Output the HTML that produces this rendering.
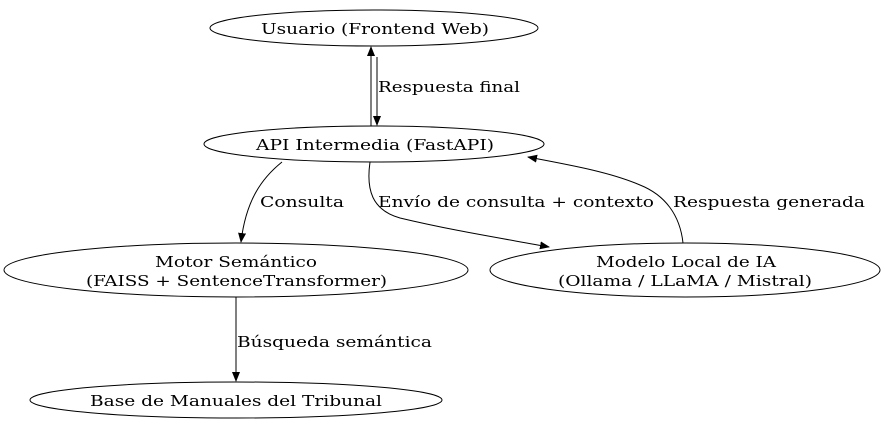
<!DOCTYPE html>
<html><head><meta charset="utf-8"><style>
html,body{margin:0;padding:0;background:#fff;}
svg{display:block;}
text{font-family:"DejaVu Serif","Liberation Serif",serif;font-size:15px;fill:#000;}
</style></head><body>
<svg width="885" height="430" viewBox="0 0 885 430" xmlns="http://www.w3.org/2000/svg">
<defs>
<marker id="a" markerWidth="10" markerHeight="8" refX="9" refY="4" orient="auto" markerUnits="userSpaceOnUse">
<path d="M0,0 L10,4 L0,8 Z" fill="#000"/>
</marker>
</defs>
<g fill="none" stroke="#000" stroke-width="1">
<ellipse cx="374" cy="28" rx="164" ry="18"/>
<ellipse cx="374" cy="144" rx="170" ry="18"/>
<ellipse cx="236" cy="270" rx="232" ry="27"/>
<ellipse cx="685" cy="270" rx="195" ry="27"/>
<ellipse cx="236" cy="400" rx="206" ry="18"/>
<path d="M371,126 L371,47" marker-end="url(#a)"/>
<path d="M377,57 L377,125" marker-end="url(#a)"/>
<path d="M282,162 C262,178 246,200 241,242" marker-end="url(#a)"/>
<path d="M370,162 C366,190 372,210 400,218 C450,230 500,238 549,247" marker-end="url(#a)"/>
<path d="M683,243 C680,215 665,195 640,185 C610,172 570,165 528,157" marker-end="url(#a)"/>
<path d="M236,297 L236,381" marker-end="url(#a)"/>
</g>
<text x="261" y="34" textLength="228" lengthAdjust="spacingAndGlyphs">Usuario (Frontend Web)</text>
<text x="256" y="150" textLength="238" lengthAdjust="spacingAndGlyphs">API Intermedia (FastAPI)</text>
<text x="155" y="267" textLength="162" lengthAdjust="spacingAndGlyphs">Motor Semántico</text>
<text x="86" y="286" textLength="301" lengthAdjust="spacingAndGlyphs">(FAISS + SentenceTransformer)</text>
<text x="596" y="267" textLength="180" lengthAdjust="spacingAndGlyphs">Modelo Local de IA</text>
<text x="558" y="286" textLength="254" lengthAdjust="spacingAndGlyphs">(Ollama / LLaMA / Mistral)</text>
<text x="90" y="406" textLength="292" lengthAdjust="spacingAndGlyphs">Base de Manuales del Tribunal</text>
<text x="378" y="92" textLength="142" lengthAdjust="spacingAndGlyphs">Respuesta final</text>
<text x="260" y="207" textLength="84" lengthAdjust="spacingAndGlyphs">Consulta</text>
<text x="378" y="207" textLength="276" lengthAdjust="spacingAndGlyphs">Envío de consulta + contexto</text>
<text x="673" y="207" textLength="192" lengthAdjust="spacingAndGlyphs">Respuesta generada</text>
<text x="237" y="347" textLength="195" lengthAdjust="spacingAndGlyphs">Búsqueda semántica</text>
</svg>
</body></html>
